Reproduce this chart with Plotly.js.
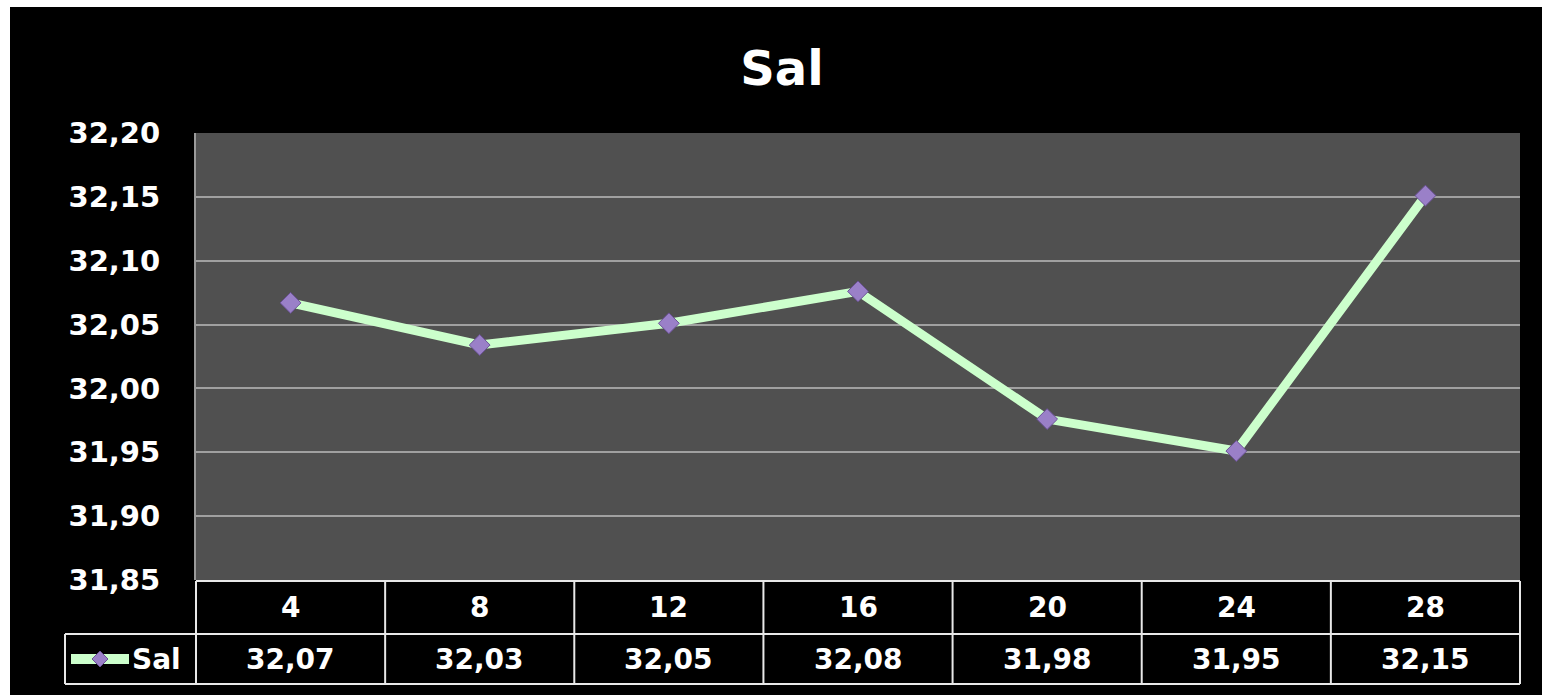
<!DOCTYPE html>
<html>
<head>
<meta charset="utf-8">
<script src="https://cdn.plot.ly/plotly-3.0.1.min.js"></script>
<style>
html,body{margin:0;padding:0;background:#ffffff;}
#chart{position:absolute;left:10px;top:7px;width:1532px;height:688px;}
</style>
</head>
<body>
<div id="chart"></div>
<script>
// ---- data ----
const categories = ["4", "8", "12", "16", "20", "24", "28"];
const salValues = [32.067, 32.034, 32.051, 32.076, 31.976, 31.951, 32.151];
const seriesName = "Sal";
const yTickValues = [31.85, 31.90, 31.95, 32.00, 32.05, 32.10, 32.15, 32.20];

// ---- layout geometry (pixels inside the chart div) ----
const W = 1532, H = 688;
const plotL = 186, plotR = 1510, plotT = 126, plotB = 573;
const row1B = 627, row2B = 677, legL = 55;
const pw = plotR - plotL, ph = plotB - plotT;
const px = x => (x - plotL) / pw;
const py = y => (plotB - y) / ph;

const fmt = v => v.toFixed(2).replace('.', ',');
const idx = categories.map((c, i) => i);
const bold = {family: "DejaVu Sans, Liberation Sans, sans-serif", color: "#ffffff", weight: "bold"};
const tableFontSize = 28;

const lineCol = "#e8e8e8";
const shapes = [];
function hline(y, x0, x1) {
  shapes.push({type: "line", xref: "paper", yref: "paper", x0: px(x0), x1: px(x1), y0: py(y), y1: py(y), line: {color: lineCol, width: 2}});
}
function vline(x, y0, y1) {
  shapes.push({type: "line", xref: "paper", yref: "paper", x0: px(x), x1: px(x), y0: py(y0), y1: py(y1), line: {color: lineCol, width: 2}});
}
hline(plotB + 1, plotL, plotR);
hline(row1B, legL, plotR);
hline(row2B, legL, plotR);
vline(legL, row1B, row2B);
const colW = pw / categories.length;
for (let k = 0; k <= categories.length; k++) {
  vline(plotL + colW * k, plotB + 1, row2B);
}
// legend key inside table cell
const keyY = (row1B + row2B) / 2;
shapes.push({type: "line", xref: "paper", yref: "paper", x0: px(legL + 6), x1: px(legL + 64), y0: py(keyY), y1: py(keyY), line: {color: "#ccffcc", width: 10}});
const d = 8;
const cx = legL + 35;
shapes.push({type: "path", xref: "paper", yref: "paper",
  path: `M ${px(cx)} ${py(keyY - d)} L ${px(cx + d)} ${py(keyY)} L ${px(cx)} ${py(keyY + d)} L ${px(cx - d)} ${py(keyY)} Z`,
  fillcolor: "#9a80c8", line: {color: "#6b5196", width: 1}});

const annotations = [];
categories.forEach((c, i) => {
  annotations.push({x: i, xref: "x", y: py((plotB + row1B) / 2), yref: "paper", text: c, showarrow: false, font: Object.assign({size: tableFontSize}, bold), xanchor: "center", yanchor: "middle"});
  annotations.push({x: i, xref: "x", y: py(keyY), yref: "paper", text: fmt(salValues[i]), showarrow: false, font: Object.assign({size: tableFontSize}, bold), xanchor: "center", yanchor: "middle"});
});
annotations.push({x: px(legL + 65), xref: "paper", y: py(keyY), yref: "paper", text: seriesName, showarrow: false, font: Object.assign({size: tableFontSize}, bold), xanchor: "left", yanchor: "middle"});

const traces = [
  {
    x: idx, y: salValues, type: "scatter", mode: "lines+markers", name: seriesName,
    line: {color: "#ccffcc", width: 9},
    marker: {symbol: "diamond", size: 16, color: "#9a80c8", line: {color: "#6b5196", width: 1}},
    hoverinfo: "skip"
  }
];

const layout = {
  width: W, height: H,
  paper_bgcolor: "#000000",
  plot_bgcolor: "#505050",
  separators: ",.",
  showlegend: false,
  margin: {l: plotL, r: W - plotR, t: plotT, b: H - plotB, pad: 0},
  title: {text: "Sal", font: Object.assign({size: 48}, bold), x: 772 / W, xanchor: "center", xref: "container", y: 1 - 61 / H, yref: "container", yanchor: "middle"},
  xaxis: {range: [-0.5, categories.length - 0.5], showticklabels: false, showgrid: false, zeroline: false, fixedrange: true, ticks: ""},
  yaxis: {
    range: [31.85, 32.20], tickvals: yTickValues, tickformat: ".2f",
    showgrid: true, gridcolor: "#a0a0a0", gridwidth: 2, zeroline: false,
    showline: true, linecolor: "#9a9a9a", linewidth: 2,
    ticks: "", ticklabelstandoff: 28,
    tickfont: Object.assign({size: 29}, bold), fixedrange: true
  },
  shapes: shapes,
  annotations: annotations
};

Plotly.newPlot("chart", traces, layout, {displayModeBar: false, staticPlot: true});
</script>
</body>
</html>
